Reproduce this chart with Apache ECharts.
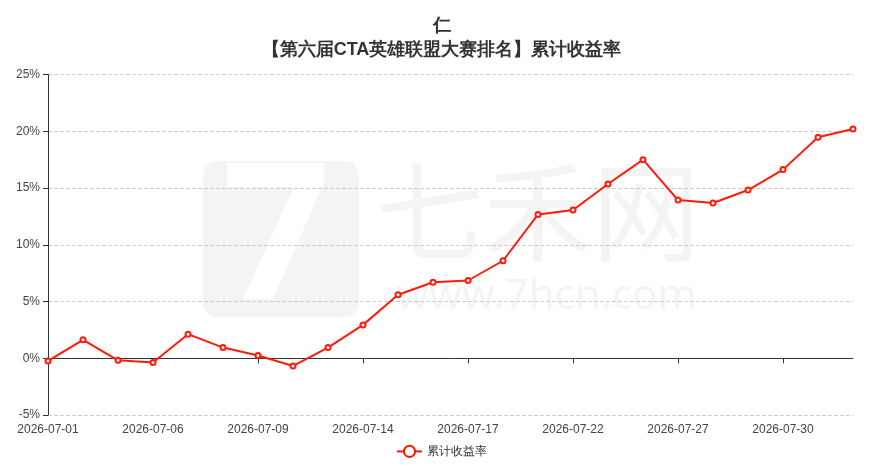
<!DOCTYPE html>
<html>
<head>
    <meta charset="utf-8">
    <title>累计收益率</title>
    <style>
        html, body { margin: 0; padding: 0; background: #fff; }
        #chart { width: 883px; height: 471px; }
    </style>
</head>
<body>
    <div id="chart"></div>
    <script src="https://cdn.jsdelivr.net/npm/echarts@6/dist/echarts.min.js"></script>
    <script>
        // trading days
        var dates = [
            '2026-07-01', '2026-07-02', '2026-07-03', '2026-07-06', '2026-07-07', '2026-07-08',
            '2026-07-09', '2026-07-10', '2026-07-13', '2026-07-14', '2026-07-15', '2026-07-16',
            '2026-07-17', '2026-07-20', '2026-07-21', '2026-07-22', '2026-07-23', '2026-07-24',
            '2026-07-27', '2026-07-28', '2026-07-29', '2026-07-30', '2026-07-31', '2026-08-03'
        ];
        // 累计收益率 (%)
        var returns = [
            -0.24, 1.62, -0.18, -0.38, 2.12, 0.94,
            0.24, -0.68, 0.94, 2.94, 5.59, 6.70,
            6.85, 8.59, 12.67, 13.06, 15.35, 17.50,
            13.94, 13.68, 14.82, 16.62, 19.47, 20.20
        ];
        var seriesName = '累计收益率';
        var titleText = '仁\n【第六届CTA英雄联盟大赛排名】累计收益率';

        var myChart = echarts.init(document.getElementById('chart'));
        var option = {
            animation: false,
            title: {
                text: titleText,
                left: 'center',
                top: 9,
                textStyle: {
                    fontSize: 18,
                    fontWeight: 'bold',
                    color: '#333',
                    lineHeight: 24
                }
            },
            // 七禾网 watermark
            graphic: [
                {
                    type: 'rect', z: -10, silent: true,
                    shape: { x: 203, y: 161, width: 156, height: 156, r: 14 },
                    style: { fill: '#f4f4f4' }
                },
                {
                    type: 'text', z: -9, silent: true,
                    left: 222, top: 150,
                    style: { text: '7', fontSize: 190, fontWeight: 'bold',
                        fill: '#fff', fontFamily: 'Noto Sans' }
                },
                {
                    type: 'text', z: -10, silent: true,
                    left: 376, top: 158,
                    style: { text: '七禾网', fontSize: 108, fill: '#f4f4f4',
                        fontFamily: 'Noto Sans CJK SC' }
                },
                {
                    type: 'text', z: -10, silent: true,
                    left: 396, top: 276,
                    style: { text: 'www.7hcn.com', fontSize: 42, fill: '#f4f4f4',
                        fontFamily: 'Noto Sans' }
                }
            ],
            legend: {
                bottom: 8,
                left: 'center',
                data: [seriesName],
                textStyle: { color: '#333', fontSize: 12 }
            },
            grid: {
                left: 48,
                right: 30,
                top: 74.5,
                bottom: 56
            },
            xAxis: [{
                type: 'category',
                data: dates,
                boundaryGap: false,
                axisLine: { onZero: true, lineStyle: { color: '#333' } },
                axisTick: { show: true, interval: 2, lineStyle: { color: '#333' } },
                axisLabel: { show: false }
            }, {
                type: 'category',
                data: dates,
                boundaryGap: false,
                position: 'bottom',
                axisLine: { show: false, onZero: false },
                axisTick: { show: false },
                axisLabel: { interval: 2, color: '#444', fontSize: 12, margin: 9 }
            }],
            yAxis: {
                type: 'value',
                min: -5,
                max: 25,
                interval: 5,
                axisLine: { show: true, lineStyle: { color: '#333' } },
                axisTick: { show: true, lineStyle: { color: '#333' } },
                axisLabel: { formatter: '{value}%', color: '#444', fontSize: 12 },
                splitLine: { lineStyle: { type: 'dashed', color: '#ccc' } }
            },
            series: [{
                name: seriesName,
                type: 'line',
                xAxisIndex: 0,
                data: returns,
                symbol: 'emptyCircle',
                symbolSize: 5,
                itemStyle: { color: '#ff1a0a' },
                lineStyle: { color: '#ff1a0a', width: 2 }
            }]
        };
        myChart.setOption(option);
    </script>
</body>
</html>
